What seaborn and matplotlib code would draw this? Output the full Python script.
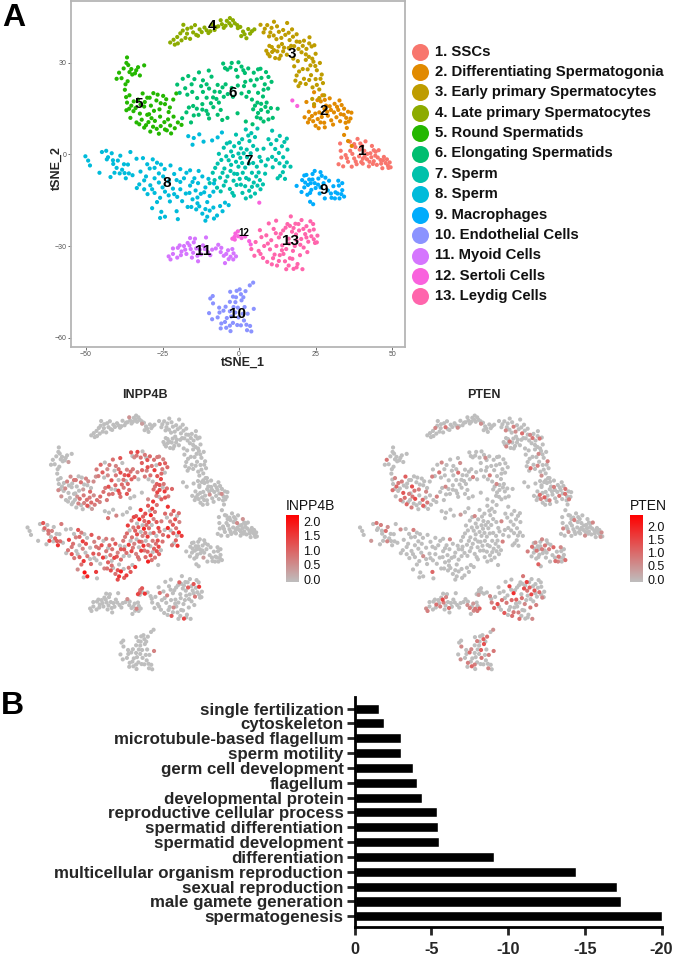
import matplotlib
matplotlib.use("Agg")
import matplotlib.pyplot as plt
from matplotlib.colors import LinearSegmentedColormap
import numpy as np
import pandas as pd
import seaborn as sns

sns.set_style("white")
plt.rcParams['font.family'] = ['Liberation Sans', 'DejaVu Sans']

# each cell: (tSNE_1, tSNE_2, INPP4B x10, PTEN x10); omitted expression = 0
c1 = [(32.5,-3.2),(33.4,-1,0,7),(34,-3.9),(34.8,-0.2),(35.6,-2.4,0,5),(36.3,1.2),(36.8,-4),(37.6,-1.3),(38,2.4,0,8),(38.7,5.1),(39.2,-0.6),(39.6,3.6),
(40.4,-3),(40.9,1.2,6,0),(41.3,4.3),(41.8,-1.6),(42.4,-3.9,0,6),(42.9,0.4),(43.4,2.8,5,0),(44,-2.2),(44.5,-0.4),(45,-3.4),(45.6,1.4,0,7),(46.2,-1.8),
(46.8,-4.5),(47.3,-0.8),(47.9,-2.8),(48.6,-3.6),(49.5,-4.2),(49.2,-2.6,0,6),(39.9,-2.5),(43.2,-0.9),(33,3.6),(33.2,1.2),(36.2,4.2),(37.6,3.4),(41,-0.7),(38.4,-3.2),
(35.2,-1.2),(37,0.2),(38.1,-2.3),(39.4,1.6),(40.4,-1.4),(41.9,0.2),(42.6,-2.4),(43.7,-3.1),(44.6,0.9),(45.3,-1),(46.4,-3),(47,-1.9),(48.3,-1.6),(48.8,-4.4,0,5),(44,1.4),(40.2,2.8)]
c2 = [(21.4,12.2),(22.5,10.5),(22.8,14),(23.8,12.6,0,10),(24.5,15.8),(25,9.4),(25.7,11.6,0,12),(26.2,13.8),(26.7,17.4),(27.2,19.4),(27.8,10.4,0,8),(28.4,16),
(29,12.7,5,0),(29.6,18.4),(30,14.6),(30.7,9.8),(31.2,16.6),(31.8,12.2,0,9),(32.4,14.6),(33,10.9),(33.5,16.2),(34.2,13,6,10),(34.8,10.4),(35.6,14),(36.4,11.8),
(36.7,13.7),(35.2,8.7),(34.3,6.4),(35.6,4.4),(36.8,2.8),(24.5,20.4,0,6),(22,17.2),(25.6,17.8),(27.9,14.9),(30.1,11.2),(32.8,17.7),
(23,11.6),(24.2,10.9,0,7),(24.9,13.4),(26.6,10.5),(27,12.3),(28,17.9),(28.8,14),(29.6,15.8,0,8),(31,13.8),(32,15.6),(33.2,13.2),(34.3,15,0,9),(35,12),(35.8,10.8,0,8),(28,8.9),(26,8.6)]
c3 = [(7,42.5),(8,40),(9.2,42.4),(9.8,38.7,0,7),(10.6,41.5),(11.4,43.5),(12.2,37.8),(13,40.2,0,8),(14,36.2),(15.1,39.2),(15.7,43.1),(16.5,37.5,0,10),(17.3,41),(18,35.5),
(18.8,39.4),(19.8,36.9,0,7),(20.4,33.5),(21.2,37.3),(22,34.6),(22.8,32),(23.7,35.4,0,9),(24.3,30.4),(25,33),(25.4,27.6),(26.4,30),(27,26.2,0,8),(27.4,23.4),(26.2,21.3),
(25,24.7),(24,22),(23.5,26),(22.4,27.9),(21.2,24.8),(20,23.4,0,11),(18.8,25.9),(18,28.9),(17.7,31.4),(19.2,30.6),(8.9,34),(10,32.2,0,7),(10.7,35.2),(11.8,31.6),(12.5,33.8),
(13.6,32.4),(14.7,35),(15.6,32.7),(27.8,19.4),(26.2,18.5),(23.9,18.2),(24.5,16.5),(21.8,31),(23,38.4),
(8.4,41.2),(10.2,40),(11.3,39),(12.4,42),(13.8,38.2,0,6),(14.4,40.8),(16.2,39.9),(17,35.6),(17.6,38.6),(18.8,37),(19.4,34.6),(20.8,35.6,0,9),(21.8,32.8),(22.9,36.4),(23.9,31.4),(24.6,35.8),(24.9,29),(23.3,29.2,0,7),
(20.8,28),(19.6,27.2),(18.4,24.2),(19.4,22.4),(21.8,23.1),(22.9,24.4,0,8),(25.4,22.8),(26.6,24.8),(9.4,33),(10.8,33.6),(11.4,34.2,0,9),(12.9,35.4),(13.1,31.4),(14.4,33.8),(16.2,34.9),(9.9,35.6)]
c4 = [(-22.5,36.7),(-21.4,37.6),(-20,36.4),(-20.2,38.5),(-19.2,39.7,0,7),(-18.2,42.5),(-17.5,38.2),(-16.9,41.2),(-16,37.9),(-15,40,0,9),(-14.4,42.4),(-13.4,38.9),(-12.2,40.1),
(-11.3,41.6),(-10,39.8,0,6),(-8.9,42.6),(-8,40.8),(-6.8,42),(-6,44,5,0),(-5,41.5),(-4,43.8),(-3,44.7),(-2.6,42.2),(-1.4,43),(-0.4,41.4,4,6),(0.7,38.8),(1.3,40.3),(2.4,38.1),
(3,41.1),(4.2,40.4),(5,41),(-21,36),(-18.8,37.4),(-18.4,40.6),(-17,39.6),(-15.6,41.6),(-14,39.2),(-12.9,41),(-10.6,40.7),(-9.4,40.4),(-7.4,41.8),(-5.6,42.7),(-4.4,42.2),(-3.2,43),(-2,44),(-0.6,42.4),(0.4,41.8),(1.8,39.4),(3.6,39.6)]
c5 = [(-40,24.8),(-39.2,26.8,0,9),(-38.4,25),(-37.7,28.2),(-36.6,31.8),(-36.2,29.3),(-35.2,28),(-34,26.6),(-33,28.6),(-32.4,25.9,4,0),(-31,29.2),(-36.4,24),(-37.3,21.2),(-36.9,18.8),
(-35.8,19.4,0,7),(-35.2,16,0,11),(-36.8,14.5,6,10),(-34.5,14.2),(-35.5,12,5,0),(-33.5,10.5,0,9),(-33,18,7,8),(-31.5,20,6,12),(-31,15.7),(-30,18.6,8,0),(-29.4,13.2),(-28.8,16,0,14),(-28,20.1),
(-27,17.7,9,0),(-26,14.8,4,8),(-24.8,19.2,7,0),(-24.2,16.5),(-23,13.9,10,7),(-21.5,18,6,0),(-20.5,20,5,8),(-31.8,11.4,0,10),(-30.4,9.6),(-29,7.5,0,8),(-27.5,11,9,15),(-26.2,6.8),(-25.6,9.3,7,0),
(-24.2,8.2,12,12),(-23.2,11.5,8,0),(-22.5,9.5,10,9),(-21.4,12.4,6,0),(-20,10.5,9,0),(-18.8,9.7,7,0),(-28.6,11.9,5,9),(-30,13,0,8),(-22.2,6.9,4,0),
(-36.8,30),(-35.8,27),(-34.9,26.2),(-33.6,27.6),(-37.1,23),(-36.6,17),(-34.4,17.4,0,9),(-35.9,15),(-33.8,15.2,6,0),(-32.2,16.4),(-32.4,13.4,0,13),(-30.8,17.2),(-29.2,18.6,8,0),(-27.8,14.3,0,9),(-26.6,19.6),(-25.6,16.8),(-23.8,18.1,6,0),(-22.6,15.4),
(-32.6,9.9),(-31,8.8,0,11),(-29.6,10.6),(-28.1,9.1,7,0),(-26.9,8.4),(-24.4,10.6,9,11),(-23.6,7.9),(-21,8.6,8,0),(-25.8,12.4,8,0)]
c6 = [(-20.2,22.9,8,0),(-18.4,24.8,10,0),(-16.6,25.7,0,7),(-15.5,23,6,0),(-13.1,26.9,9,0),(-11.8,24.3,7,0),(-9.9,27.5,12,0),(-9,25.5,0,6),(-19.4,20.2,8,0),(-17.6,21.7,11,9),(-15.3,20.5,6,0),(-13.7,18.5,12,0),
(-11.8,20.5,8,0),(-9.8,21.6,13,10),(-8.5,18.7,9,0),(-7,22.8,7,0),(-6.3,20.5,15,0),(-4.4,23,8,0),(-3.7,19.8,10,8),(-5.2,29.8,12,0),(-3.8,27.8,6,0),(-2.4,30,14,0),(-1,27.7,9,0),(0.8,28.8,8,0),(1.9,26.7,12,0),
(3,28.2,10,0),(-0.5,25.5,11,0),(1.6,22.4,7,0),(3.2,20.5,9,8),(5,22.6,15,0),(6.2,27.9,8,0),(7.3,25.1,12,0),(8.8,27,7,0),(10.6,23.8,10,0),(8.4,23,8,0),(6.2,20.2,12,0),(7.8,19,14,0),(9,17,8,0),(6,17,11,7),
(4.6,14.8,9,0),(7.2,14.6,13,0),(9.4,14,15,0),(11,12,8,0),(12.6,15,10,0),(5.8,12.2,7,0),(8,10.8,11,0),(4.4,9.9,16,0),(2.2,10.8,6,0),(-18.6,11.9,10,8),(-17.2,13.8,9,0),(-15.7,10.5,8,0),(-15,15.9,13,7),(-13.2,13,9,0),
(-12,16.5,10,0),(-10.7,14.3,14,0),(-9.8,11.8,9,0),(-8.4,15.5,8,0),(-7,13,12,0),(-5.5,11.3,0,0),(-3.8,12,0,0),(-0.5,13.5),(-6.6,17,10,0),(2,23.8,13,0),
(-16.9,19.6),(-14.6,24.7,8,0),(-12.4,22.4),(-10.6,23,9,0),(-10.6,18.6),(-8,20.6,12,0),(-7.4,18.2),(-5.4,22,9,0),(-5,18.9,11,0),(-2.4,21.8,7,0),(-2,18.9),(-0.4,22.6,10,0),(0.8,20,8,0),(2.4,18.9),(4.2,18),(3.8,24.3,9,0),
(-4.6,28.3),(-2.8,28.5,8,0),(-0.2,30.2),(1.4,27.6,0,6),(4.8,26.8,9,0),(5.8,24.6),(7,28.1,7,0),(9.6,25.4,11,0),(8,21.2,10,0),(9.5,21.6),(7.2,16.6,12,0),(5.2,16,8,0),(8.6,15.6),(6.2,13.6,14,0),(10.4,15.2,9,0),(7,11.8),(9.6,11.5,12,0),
(-14.8,12.8,9,0),(-12,14.7),(-9.2,16.8,10,0),(-10.2,13.2,11,0),(-6,14.6,9,0),(-16.4,15.4,8,0),(-13.8,15)]
c7 = [(2.2,8.2,12,0),(4,7,15,0),(6,8.5,9,0),(1,5,13,0),(3.4,4.4,18,0),(5.2,5.7,8,0),(-1,6.5,16,0),(-3,4,12,7),(-1.6,2.7,19,0),(0.6,2,10,0),(2.5,1.6,14,0),(4.6,2.8,7,0),(-5,2.2,9,0),(-6.6,0.2,15,0),
(-4.2,-0.6,8,0),(-2,-0.5,12,0),(0.4,-1.1,18,0),(2.6,-0.9,9,0),(4.6,-2.8,11,0),(6.7,-0.8,14,0),(8,1.9,8,7),(9.6,5,10,0),(10.8,7.8,16,0),(12.2,4.7,8,0),(14,2.7,13,0),(15.6,5.2,9,0),(15.8,1.6,7,0),
(13,0.5,12,0),(10.8,-0.8,17,0),(8.7,-3.6,9,0),(11,-4.2,14,0),(13.2,-2.9,12,0),(15.6,-2.6,18,0),(16.8,-4,15,0),(14.3,-5.8,11,0),(12.6,-7.8,8,0),(15,-8,16,0),(6.4,-5.9,13,0),(4.2,-6,8,0),
(2,-4.3,15,0),(-0.2,-4,7,0),(-2.6,-3.4,13,0),(-4.8,-4.6,9,0),(-7,-3,10,0),(-8.6,-6,8,0),(-6.2,-7.6,15,0),(-3.8,-7.2,7,0),(-1.6,-6.3,12,0),(0.2,-8,16,0),(2.3,-7.7,8,0),(4.8,-9.2,11,0),(6.8,-8.4,14,0),
(8.5,-6.3,9,8),(-9.6,-9.4,12,0),(-7.2,-10.9,9,0),(-5,-10.2,14,0),(-3,-11.3,7,0),(-0.8,-10,15,0),(1.1,-12.6,10,0),(3.3,-11.9,13,0),(2.2,-14.4,18,0),(5.2,-12.8,8,0),(7,-11.4,11,0),(0.6,-9.9,8,0),(-1.7,-13.5,7,0),
(3,6.2),(0,3.8,11,0),(-2.6,1),(-4,3.6,14,0),(-0.2,0.3),(1.5,0.4,9,0),(3.8,0.4),(5.9,1.6,12,0),(-5.8,-1.8),(-3.4,-1.9,11,0),(-1,-2.4),(1,-2.8,9,0),(3.2,-3),(5.8,-4),(7.2,-2.2,10,0),(9.4,-1.6),(11.8,1.8,8,0),
(10.4,3.4),(13.3,6.1,12,0),(14.8,4.1),(12,-1.8),(14.4,-0.9,9,0),(14.8,-3.9),(13.4,-7),(-7.8,-4.4,8,0),(-5.4,-6),(-2.8,-5.4),(-0.6,-6.4,8,0),(1.2,-6),(3.2,-8.2),(5.6,-7.2,9,0),(7.8,-9.8),(-8,-8.4),(-4.4,-8.8,8,0),(-1.8,-8.6),(2,-10.4,10,0),(4.2,-10.6),(6,-10.2,13,0),(-6,-12.1),(-2.2,-12.6,9,0),(3.8,-13.8,9,0)]
c8 = [(-50.2,-0.6),(-49.3,-2),(-48.7,-3.6),(-45.6,-6,0,5),(-44.8,0.8),(-43.4,1.2,12,9),(-42.8,-0.9,10,0),(-41.6,0.4,0,8),(-41.1,-3.1,8,0),(-42,-7.4),(-40.7,-6,14,0),(-39.6,-2,7,10),(-38.8,-0.4,0,6),
(-38.2,-5,11,0),(-37,-7.8,16,0),(-36,-6.2,9,0),(-36.3,-3.3),(-35.5,0.8,8,0),(-33.5,-1.4,0,6),(-31.4,-1.2),(-32.2,-5.6,14,0),(-30.4,-7.2,9,0),(-29.2,-4.6,7,0),(-28.2,-1.6,12,8),(-26.8,-2.7,8,0),(-26.2,-6.2,15,0),
(-24.3,-4.8,0,0),(-22.4,-3.6,12,0),(-21.2,-6.4,7,0),(-19.2,-4.8,9,0),(-18,-7.8,13,0),(-16,-5.2,8,0),(-14.6,-7.8,10,0),(-13.2,-5.4,7,7),(-12,-7.2,12,0),(-32.6,-9.8,8,0),(-31,-11.4,13,0),(-29,-10.1,0,0),(-27.6,-12.6,11,0),
(-26.2,-9.2,7,0),(-25.8,-14.2,16,0),(-24.2,-12.2,8,6),(-22.6,-15.4,10,0),(-21.6,-11.2,12,0),(-20.2,-13.9,0,0),(-19.2,-9,9,0),(-17.4,-12.8,15,0),(-16,-10.2,8,0),(-15.2,-14.7,11,0),(-13.6,-16,9,0),(-12.5,-12.9,14,0),
(-11,-10.8,7,0),(-9.6,-13.6,10,0),(-8.2,-9.5,12,0),(-14,-18,13,0),(-16.8,-17.2,7,0),(-12,-19.4,9,0),(-9.6,-18.4,18,0),(-7.2,-20,15,0),(-5.4,-18.6,12,0),(-3.4,-16.6,16,0),(-11,-21.7,13,0),(-8.2,-21,11,0),
(-28.4,-17.6,6,0),(-25.4,-18.8,20,0),(-24.2,-20.4,18,0),(-25.8,-20.8),(-20.4,-18.6,15,11),(-20,-21.2),(-7,5.6,0,0),(-5.6,7.2),(-8.8,4.6,0,5),(-11.6,4.2,7,0),(-13,6.6),(-14.8,5.4),(-16.6,6),(-15.2,3.2,9,0),
(-43.2,-1.6),(-41.2,-1.9,9,0),(-40,-4.4),(-39,-6.2,0,7),(-37.6,-3.2),(-37.4,-6.1,11,0),(-34.8,-6.8),(-31,-8.5,8,0),(-30,-3.2),(-27.6,-4.4,10,0),(-25.5,-3.3),(-27.6,-7.8),(-24.8,-7.2,13,0),(-23,-8.8),(-20.4,-8.4,8,0),(-17.2,-6),(-15.2,-9),(-13.4,-9.4,9,0),(-10,-8),
(-33.4,-11),(-29.9,-13,8,0),(-28.4,-11.4),(-26.8,-15.6,9,0),(-25,-10.8),(-23,-13.4),(-21.2,-13),(-19.2,-11.4,10,0),(-18.6,-15.3),(-16.2,-12.6),(-14.2,-11.8,8,0),(-13.6,-14.1),(-11.4,-12.4,12,0),(-10.4,-15.6),(-8.4,-12.2),(-15.6,-17.2,9,0),(-13,-17),(-11,-17.9,12,0),(-8.4,-17.4),(-10.4,-20.4,16,0),(-6.2,-16.9,9,0),(-4.6,-15.8)]
c9 = [(18.8,-10.3,0,8),(20.6,-8.4,0,10),(20.4,-12.3),(22,-6.7,0,6),(22.5,-10,0,9),(22.3,-13.2),(23.2,-15.5,0,12),(24.2,-16.3),(24,-8.2),(24.7,-5.4,0,7),(25,-11),(25.9,-7.9,0,9),(26.3,-12.8,4,0),
(26.6,-5.8),(27.6,-9.4,0,8),(28,-14.4),(29,-11.8),(29.4,-8.6,0,11),(30.2,-14.2,0,10),(30.8,-10.4),(31.5,-12.4,0,9),(32.4,-8.6,0,7),(32.8,-14.4),(33.7,-11.7),(34.3,-13.8,0,10),(33.7,-9.4),(28.2,-7.6),(23.4,-9.4),(21.3,-10.8),
(21.3,-6.9),(22.9,-8.2),(23.6,-11.6),(24.7,-9.4,0,8),(25.8,-9.9),(21.6,-9.2),(23.2,-12.6),(27,-7),(26.6,-10.8),(30,-12.8),(31.3,-14.4,0,7),(32.6,-10.2),(32.2,-12.8),(33.4,-13),(24,-6.4)]
c10 = [(4.6,-42,0,6),(3.5,-42.9),(2.1,-44.8,0,10),(0.6,-45.8,0,12),(-0.8,-44.7),(-2,-46.6,0,8),(-1.2,-48.4),(0.8,-47.8,0,14),(-3,-48.3),(-9.4,-47.2),(-8.5,-48.8,0,7),(-6.5,-50.2),(-5.1,-51.2,0,10),(-3,-51.4),(-0.4,-50.2,0,12),
(1.8,-50),(2.8,-52.2,0,8),(4.8,-50.6,7,9),(-9.8,-52),(-8.8,-54,0,6),(-7,-53.4),(-5.8,-55.4,0,8),(-4,-53.6),(-4.2,-56.8,0,11),(-2,-55.2),(-0.2,-53.4,0,9),(0.6,-56),(1.6,-54.4),(2.6,-57.6,0,7),(4,-58),(3.6,-56.2),(-6,-57),(-2.8,-57.9),
(-2.9,-45),(-1,-46.8),(0.2,-44.2),(1.4,-46.8),(-1.8,-50),(-4.4,-49.9,0,7),(-2.6,-53.1),(-1.2,-51.8),(-6.4,-51.8),(-4.6,-54.9),(-3,-56.1,0,8),(-0.6,-55.9),(1.2,-52.2),(2.4,-55.8),(-8.6,-46.4)]
c11 = [(-23,-33.4,0,6),(-22.4,-34.4,0,8),(-21.6,-32.6),(-21.6,-30.8),(-20.2,-33.8),(-20,-30.6),(-18.8,-31.8,0,10),(-18,-30),(-17.2,-32.6,0,8),(-16.2,-29.8,0,15),(-16,-27.4),(-15,-32.2),(-14.8,-28.8,0,7),(-14,-30.8),
(-13.6,-33.2,0,10),(-13.4,-35),(-12.4,-32.7),(-11.8,-29.8),(-10.8,-27.2),(-10.2,-32),(-8.8,-31.2),(-7.6,-30.8),(-6.8,-29.6,6,0),(-6,-32,0,6),(-5,-33.2,0,8),(-4.6,-35.6),(-3.6,-31.4,0,5),(-2.8,-33.5,7,9),(-1.8,-32.4),(-1,-33.4,0,12),(-3.4,-34.3,0,7),
(-19.4,-29.8),(-19,-33),(-17.6,-31.2),(-16.8,-29),(-15.8,-31,0,8),(-15.4,-33.8),(-14.4,-27.6),(-12.8,-31.2),(-11.2,-31),(-9.4,-33),(-5.8,-30.6),(-4.2,-32.6),(-2.2,-31),(-1.9,-34.4,0,9)]
c12 = [(-2.2,-27.6,14,0),(-1.4,-27.9,0,5),(-1.2,-25.9,8,0),(-0.4,-25.2,12,0),(-0.3,-26.8),(0.8,-27.4,16,0),(2,-26.9),(3.3,-28.4,0,7),(3.8,-29.5),(6.6,-15.8),(17.4,17.7),(19,15.9),(-1.5,-27,10,0)]
c13 = [(4,-31,0,8),(5,-33.2,0,11),(5.4,-28.7),(6.4,-31.6,0,14),(6.8,-24.8),(7.3,-27.1,9,0),(7.8,-33.9),(8.2,-30,0,10),(8.9,-26.5),(9.2,-35.2,0,13),(9.7,-22.6),(10.1,-31.1,0,9),(10.5,-28.1,7,0),(11.1,-34),(11.3,-24.4,0,15),
(12.1,-21.7),(12.2,-30,0,11),(12.4,-36.4,12,10),(13,-27.2,0,18),(13.3,-33,6,0),(14.4,-24.9),(14.1,-29.8,0,12),(15.4,-37.6,0,10),(15,-35,0,8),(15.8,-22.8,10,0),(16.2,-27.6),(16.9,-20.3,0,9),(17.3,-25.3,0,14),
(17.6,-31.6,0,7),(17.8,-37.5,14,0),(18.4,-22.7,0,16),(18.8,-28.2),(19.1,-35.9),(19.6,-24.9,11,12),(19.9,-33,0,9),(20.4,-21.5),(20.7,-37.6,0,7),(21.1,-30.5),(21.6,-26.1,0,13),(22,-23.5,12,0),(22.3,-32,0,8),(22.6,-28.6,8,0),
(23.3,-21.9),(23.6,-26.8,0,10),(24.4,-24.6,16,0),(24.8,-29,0,7),(25.6,-26.6),(25.4,-28.8),(14.5,-32.6),(16.6,-34),(10.7,-36),(20.3,-27.7,0,15),
(15.2,-24),(16.6,-23.4),(17.8,-24.1),(18.6,-26.2,0,9),(19.4,-22.8),(21,-24.4),(22,-27.2),(23,-25),(24.2,-22.8),(24.4,-27.8),(20,-29.6),(18.2,-30),(16.4,-29.2,0,10),(15.4,-31),(13.6,-26),(12,-25.8),(11.6,-32.8),(9.4,-29.2),(7,-32.6),(13,-34.9,0,9),(17.4,-34.2),(18.8,-37),(16.2,-36.4),(14,-31.4)]

cluster_points = [c1, c2, c3, c4, c5, c6, c7, c8, c9, c10, c11, c12, c13]
cluster_names = ["1. SSCs", "2. Differentiating Spermatogonia", "3. Early primary Spermatocytes",
                 "4. Late primary Spermatocytes", "5. Round Spermatids", "6. Elongating Spermatids",
                 "7. Sperm", "8. Sperm", "9. Macrophages", "10. Endothelial Cells",
                 "11. Myoid Cells", "12. Sertoli Cells", "13. Leydig Cells"]
cluster_colors = ["#F8766D", "#E18A00", "#BE9C00", "#8CAB00", "#24B700", "#00BE70", "#00C1AB",
                  "#00BBDA", "#00ACFC", "#8B93FF", "#D575FE", "#F962DD", "#FF65AC"]
label_x = [40.3, 27.5, 17.4, -9, -32.7, -2, 3, -23.6, 27.5, -0.6, -11.8, 1.4, 16.7]
label_y = [1, 14.3, 33, 42, 16.6, 20, -2, -9.3, -11.6, -52.3, -31.6, -25.8, -28.3]

go_terms = ["single fertilization", "cytoskeleton", "microtubule-based flagellum", "sperm motility",
            "germ cell development", "flagellum", "developmental protein", "reproductive cellular process",
            "spermatid differentiation", "spermatid development", "differentiation",
            "multicellular organism reproduction", "sexual reproduction", "male gamete generation",
            "spermatogenesis"]
go_values = [-1.6, -1.95, -3.0, -3.05, -3.8, -4.1, -4.4, -5.4, -5.45, -5.5, -9.1, -14.4, -17.1, -17.35, -20.0]
go_ticks = [0, -5, -10, -15, -20]

rows = []
for k, pts in enumerate(cluster_points):
    for p in pts:
        q = tuple(p) + (0,) * (4 - len(p))
        rows.append((q[0], q[1], q[2] / 10, q[3] / 10, k))
cells = pd.DataFrame(rows, columns=["tSNE_1", "tSNE_2", "INPP4B", "PTEN", "cluster"])

W, H = 674, 957
fig = plt.figure(figsize=(W / 100, H / 100), dpi=100, facecolor="white")


def px_axes(l, t, r, b, **kw):
    return fig.add_axes([l / W, 1 - b / H, (r - l) / W, (b - t) / H], **kw)


# ---- Panel A
ax = px_axes(71, 1, 405, 347)
sns.scatterplot(data=cells, x="tSNE_1", y="tSNE_2", hue="cluster", palette=cluster_colors,
                legend=False, s=9, linewidth=0, ax=ax)
ax.set_xlim(-54.9, 54.2)
ax.set_ylim(-63.1, 50.3)
ax.set_xticks([-50, -25, 0, 25, 50])
ax.set_yticks([-60, -30, 0, 30])
ax.tick_params(labelsize=5, length=2, width=0.6, color="#555555", labelcolor="#555555", pad=1, bottom=True, left=True)
ax.set_xlabel("tSNE_1", fontsize=9, fontweight="bold")
ax.set_ylabel("tSNE_2", fontsize=9, fontweight="bold")
ax.xaxis.set_label_coords((243 - 71) / 334, -(363 - 347) / 346, transform=ax.transAxes)
ax.yaxis.set_label_coords((57 - 71) / 334, 1 - (168 - 1) / 346, transform=ax.transAxes)
ax.xaxis.label.set_va("center")
ax.yaxis.label.set_va("center")
for s in ax.spines.values():
    s.set_color("#B5B5B5")
    s.set_linewidth(1.3)
for i, (x, y) in enumerate(zip(label_x, label_y)):
    ax.text(x, y, str(i + 1), fontsize=7 if i == 11 else 11, fontweight="bold", ha="center", va="center", color="black")

# ---- Legend in overlay axes measured in pixels
ov = fig.add_axes([0, 0, 1, 1], facecolor="none")
ov.set_xlim(0, W)
ov.set_ylim(H, 0)
ov.axis("off")
for i, (n, c) in enumerate(zip(cluster_names, cluster_colors)):
    yy = 51.5 + i * 20.4
    ov.scatter([420], [yy], s=150, color=c, linewidth=0)
    ov.text(435, yy, n, fontsize=10.75, fontweight="bold", va="center", ha="left", color="#111111")
ov.text(2, 18, "A", fontsize=23, fontweight="bold", va="center", color="black")
ov.text(1, 706, "B", fontsize=23, fontweight="bold", va="center", color="black")

# ---- Feature plots
cmap = LinearSegmentedColormap.from_list("gr", ["#BEBEBE", "#FF0000"])


def feature(gene, x0, sx, vmax, bar_l, tick_px_top, title_x):
    y0, sy = 526, 2.47
    l, r, t, b = x0 - 135, x0 + 125, 400, 685
    a = px_axes(l, t, r, b)
    d = cells.sort_values(gene)
    sns.scatterplot(data=d, x="tSNE_1", y="tSNE_2", hue=gene, hue_norm=(0, vmax), palette=cmap,
                    legend=False, s=9, linewidth=0, ax=a)
    a.set_xlim((l - x0) / sx, (r - x0) / sx)
    a.set_ylim((y0 - b) / sy, (y0 - t) / sy)
    a.axis("off")
    ov.text(title_x, 395, gene, fontsize=9, fontweight="bold", ha="center", va="center")
    cb = px_axes(bar_l, 515, bar_l + 13, 582)
    grad = np.linspace(1, 0, 256).reshape(-1, 1)
    cb.imshow(grad, cmap=cmap, aspect="auto", extent=[0, 1, 0, 1])
    cb.axis("off")
    ov.text(bar_l, 506, gene, fontsize=10, ha="left", va="center", color="#111111")
    for v, lab in zip([2, 1.5, 1, .5, 0], ["2.0", "1.5", "1.0", "0.5", "0.0"]):
        yy = 580.5 - (580.5 - tick_px_top) * v / 2
        ov.text(bar_l + 17, yy, lab, fontsize=9, ha="left", va="center", color="#111111")


feature("INPP4B", 143, 2.3, 2.2, 286, 523, 145)
feature("PTEN", 482, 2.43, 2.4, 630, 528, 484)

# ---- Panel B
axb = px_axes(354.5, 697, 661.5, 927)
bars = pd.DataFrame({"term": go_terms, "value": go_values})
sns.barplot(data=bars, y="term", x="value", color="black", orient="h", width=0.68,
            saturation=1, ax=axb)
axb.set_xlim(0, -20)
axb.set_ylim(14.72, -0.78)
axb.set_xticks(go_ticks)
axb.set_xticklabels([str(v) for v in go_ticks])
axb.set_xlabel("")
axb.set_ylabel("")
axb.tick_params(axis="x", labelsize=11.8, length=6, width=2, pad=5, bottom=True)
axb.tick_params(axis="y", labelsize=12.2, length=6, width=2, pad=2, left=True)
for t in axb.get_xticklabels() + axb.get_yticklabels():
    t.set_fontweight("bold")
sns.despine(ax=axb)
axb.spines["left"].set_linewidth(2)
axb.spines["bottom"].set_linewidth(2)
axb.spines["left"].set_color("black")
axb.spines["bottom"].set_color("black")

fig.savefig("out.png", dpi=100, facecolor="white")
